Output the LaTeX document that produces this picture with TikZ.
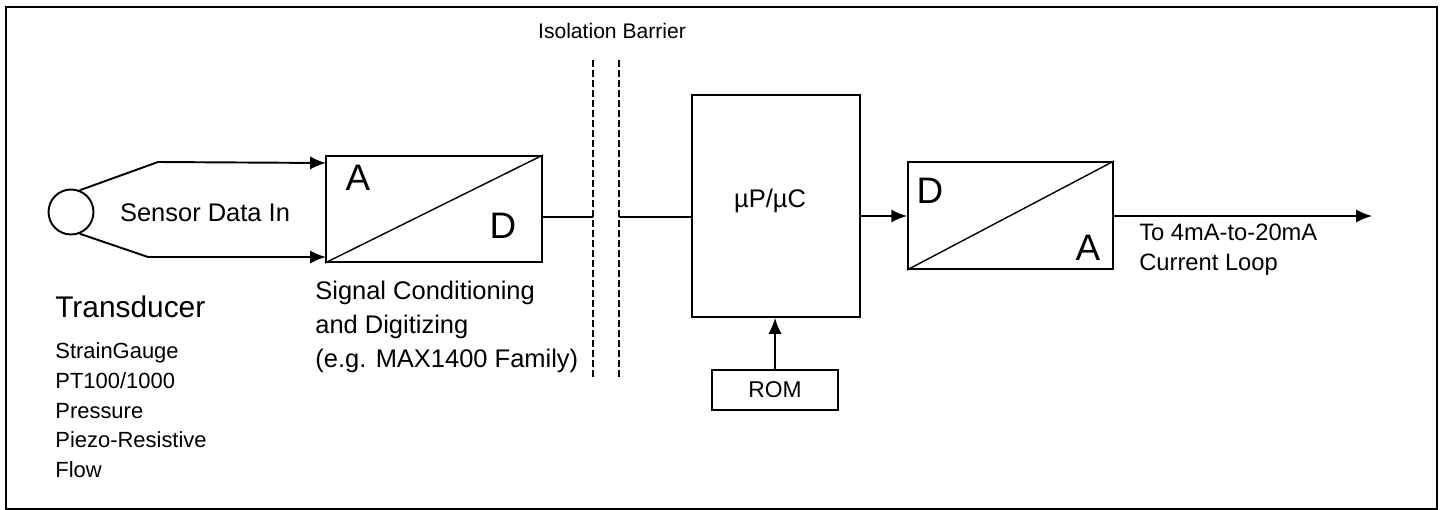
\documentclass[tikz,border=0pt]{standalone}
\usepackage{fontspec}
\setmainfont{Liberation Sans}
\usetikzlibrary{arrows.meta,positioning}
\tikzset{
      convbox/.style={
        draw=black,
        line width=1.1pt,
        inner sep=0pt
      },
      wire/.style={line width=1.1pt},
      sigarrow/.style={line width=1.1pt, -{Latex[length=9pt,width=7.5pt]}},
      barrier/.style={line width=1pt, dash pattern=on 4pt off 1.7pt},
      lbl/.style={font=\fontsize{14.5}{19.3}\selectfont, inner sep=0pt},
      bigletter/.style={font=\fontsize{21}{24}\selectfont, inner sep=0pt}
    }
\begin{document}
\begin{tikzpicture}[x=0.02cm,y=-0.02cm]
    \useasboundingbox (0,0) rectangle (1440,510);
    \draw[line width=1.4pt] (6,7) rectangle (1437,509);
    \node[draw, line width=1.1pt, circle, minimum size=0.9cm, inner sep=0pt] (sensor) at (71,212) {};
    \node[convbox, minimum width=4.32cm, minimum height=2.12cm] (adc) at (434,209) {};
    \node[convbox, minimum width=3.36cm, minimum height=4.44cm] (mpu) at (776,206) {};
    \node[convbox, minimum width=4.1cm, minimum height=2.14cm] (dac) at (1010.5,215.5) {};
    \node[convbox, minimum width=2.52cm, minimum height=0.8cm, font=\fontsize{13}{15}\selectfont] (rom) at (775,390) {ROM};
    \draw[line width=0.8pt] (adc.south west) -- (adc.north east);
    \draw[line width=0.8pt] (dac.south west) -- (dac.north east);
    \node[bigletter] (adcA) at (358,178) {A};
    \node[bigletter] (adcD) at (503,226) {D};
    \node[bigletter] (dacD) at (930,191) {D};
    \node[bigletter] (dacA) at (1088,248) {A};
    \node[lbl] (mputxt) at (770,201) {µP/µC};
    \node[lbl] (sensortxt) at (205,213) {Sensor Data In};
    \node[lbl, font=\fontsize{12}{14}\selectfont] (isotxt) at (612,31) {Isolation Barrier};
    \node[lbl, anchor=north west, align=left] (sigtxt) at (315,281) {Signal Conditioning\\and Digitizing\\(e.g. MAX1400 Family)};
    \node[lbl, anchor=west, font=\fontsize{17}{20}\selectfont] (transtxt) at (55,307) {Transducer};
    \node[lbl, anchor=north west, align=left, font=\fontsize{12.5}{17}\selectfont] (typetxt) at (55,342) {StrainGauge\\PT100/1000\\Pressure\\Piezo-Resistive\\Flow};
    \node[lbl, anchor=north west, align=left, font=\fontsize{13.5}{17}\selectfont] (looptxt) at (1139,224) {To 4mA-to-20mA\\Current Loop};
    \coordinate (topkink) at (158,162);
    \coordinate (botkink) at (148,257);
    \coordinate (topin) at (326,163);
    \coordinate (botin) at (326,257);
    \coordinate (bar1top) at (593,60);
    \coordinate (bar1bot) at (593,378);
    \coordinate (bar2top) at (619,60);
    \coordinate (bar2bot) at (619,378);
    \coordinate (bus) at (600,217);
    \coordinate (loopout) at (1372,216);
    \draw[barrier] (bar1top) -- (bar1bot);
    \draw[barrier] (bar2top) -- (bar2bot);
    \draw[sigarrow] (sensor.68) -- (topkink) -- (topin);
    \draw[sigarrow] (sensor.-68) -- (botkink) -- (botin);
    \draw[wire] (adc.east |- bus) -- (bar1top |- bus);
    \draw[wire] (bar2top |- bus) -- (mpu.west |- bus);
    \draw[sigarrow] (mpu.east |- loopout) -- (dac.west |- loopout);
    \draw[sigarrow] (dac.east |- loopout) -- (loopout);
    \draw[sigarrow] (rom.north) -- (rom.north |- mpu.south);
    \end{tikzpicture}
\end{document}
